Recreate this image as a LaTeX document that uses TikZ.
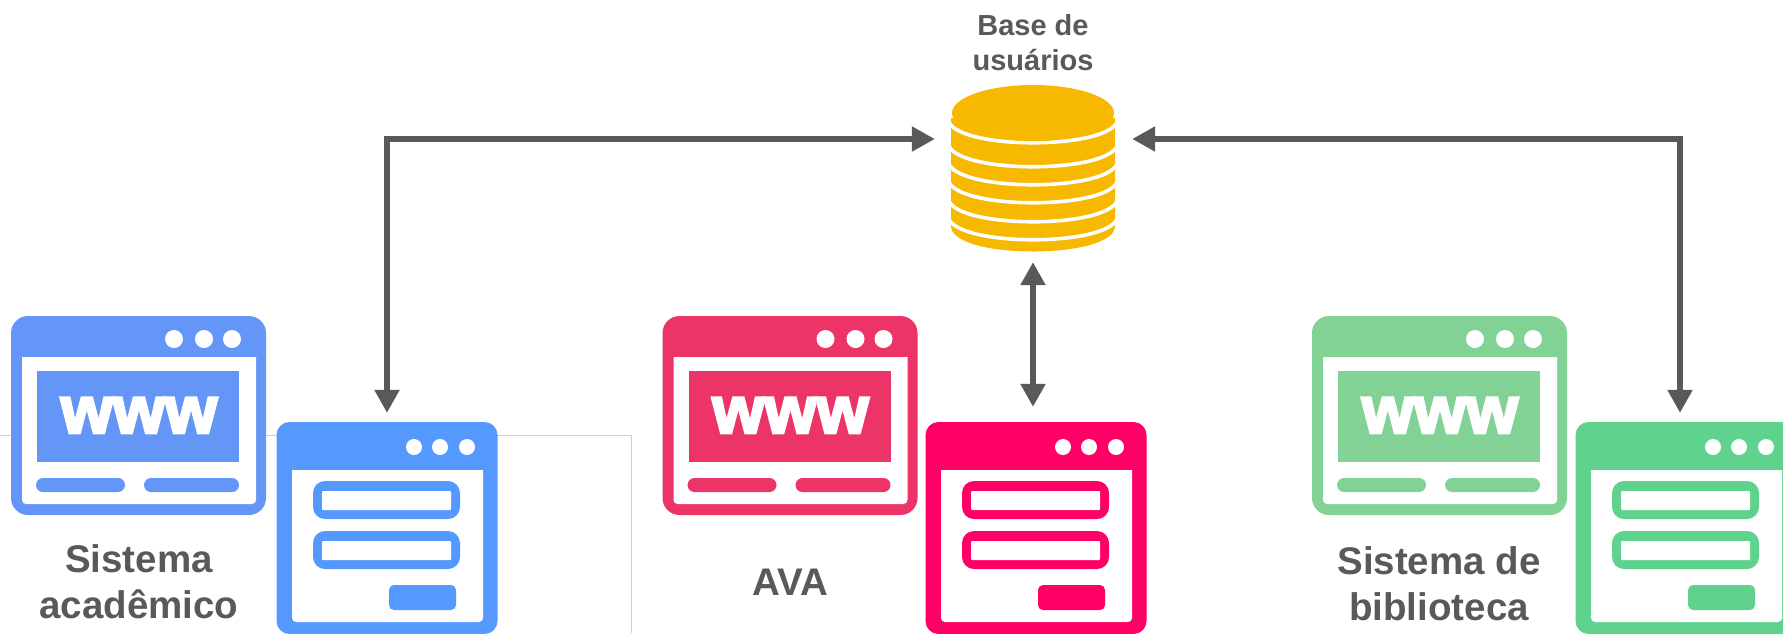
\documentclass[tikz,border=0pt]{standalone}
\usepackage{fontspec}
\setmainfont{Liberation Sans}
\newfontfamily\wwwfont[BoldFeatures={FakeBold=4}]{Liberation Sans}
\usetikzlibrary{arrows.meta}
\definecolor{textgrey}{HTML}{595959}
\definecolor{linegrey}{HTML}{D0D0D0}
\definecolor{dbgold}{HTML}{F7B900}
\definecolor{sitea}{HTML}{6396F7}
\definecolor{forma}{HTML}{5599FF}
\definecolor{siteb}{HTML}{EC3469}
\definecolor{formb}{HTML}{FF0066}
\definecolor{sitec}{HTML}{81D294}
\definecolor{formc}{HTML}{5FD38D}
\tikzset{
    link/.style={textgrey,line width=5.4pt,{Triangle[length=23pt,width=24pt]}-{Triangle[length=23pt,width=24pt]}},
    caption/.style={textgrey,font=\bfseries\fontsize{38.5}{46}\selectfont,align=center,anchor=base},
    formwin/.style={inner sep=0pt,minimum width=221pt,minimum height=212pt,rounded corners=13pt},
}
% #1 shift, #2 colour, #3 node name
\newcommand{\sitewin}[3]{
    \begin{scope}[shift={(#1,0)}]
        \fill[#2,rounded corners=17pt] (11,316) rectangle (266,515);
        \fill[white] (22,357) -- (256,357) {[rounded corners=4pt] -- (256,504) -- (22,504)} -- cycle;
        \foreach \x in {174,204,232} \fill[white] (\x,339) circle (9pt);
        \fill[#2] (37,371) rectangle (239,462);
        \node[white,font=\wwwfont\bfseries\fontsize{67}{67}\selectfont,inner sep=0pt,anchor=base] (#3) at (139,433) {www};
        \fill[#2,rounded corners=7pt] (36,478) rectangle (125,492);
        \fill[#2,rounded corners=7pt] (144,478) rectangle (239,492);
    \end{scope}
}
\newcommand{\formwin}[3]{
    \begin{scope}[shift={(#1,0)}]
        \node[formwin,fill=#2] (#3) at (387,528) {};
        \fill[white] (292,470) -- (483,470) {[rounded corners=4pt] -- (483,622) -- (292,622)} -- cycle;
        \foreach \x in {414,440,467} \fill[white] (\x,447) circle (8pt);
        \foreach \y in {481,531} {
            \fill[#2,rounded corners=12pt] (313,\y) rectangle (460,\y+38);
            \fill[white,rounded corners=1pt] (322,\y+10) rectangle (451,\y+29);
        }
        \fill[#2,rounded corners=5pt] (389,585) rectangle (456,610);
    \end{scope}
}
\begin{document}
\begin{tikzpicture}[x=1pt,y=-1pt]
    \useasboundingbox (0,0) rectangle (1783,633);
    \clip (0,0) rectangle (1783,633);
    \draw[linegrey,line width=1pt] (0,435) -- (631,435) -- (631,633);

    \sitewin{0}{sitea}{wwwa}
    \formwin{0}{forma}{fa}
    \sitewin{651.5}{siteb}{wwwb}
    \formwin{649}{formb}{fb}
    \sitewin{1301}{sitec}{wwwc}
    \formwin{1299}{formc}{fc}

    \node[caption] (lblacad) at (139,618) {Sistema\\acadêmico};
    \node[caption] (lblava) at (790,595) {AVA};
    \node[caption] (lblbib) at (1439,620) {Sistema de\\biblioteca};

    % user database
    \node[inner sep=0pt,minimum width=166pt,minimum height=168pt] (dbase) at (1033,168) {};
    \fill[dbgold] (951,118) -- (951,226) .. controls (951,260) and (1115,260) .. (1115,226) -- (1115,118) -- cycle;
    \foreach \c in {118,142,160,178,197,215} {
        \draw[white,line width=3.6pt] (948,\c) .. controls (948,\c+33) and (1118,\c+33) .. (1118,\c);
    }
    \fill[dbgold] (1033,113) ellipse [x radius=81,y radius=28];
    \node[textgrey,font=\bfseries\fontsize{29}{35}\selectfont,align=center,anchor=base] (lbldb) at (1033,70) {Base de\\usuários};

    \draw[link,shorten <=9pt,shorten >=15pt] (fa.north) |- ([yshift=29pt]dbase.west);
    \draw[link,shorten <=16pt,shorten >=9pt] ([yshift=29pt]dbase.east) -| ([xshift=-6pt]fc.north);
    \draw[link,shorten <=10pt,shorten >=15pt] (dbase.south) -- (dbase.south |- fb.north);
\end{tikzpicture}
\end{document}
